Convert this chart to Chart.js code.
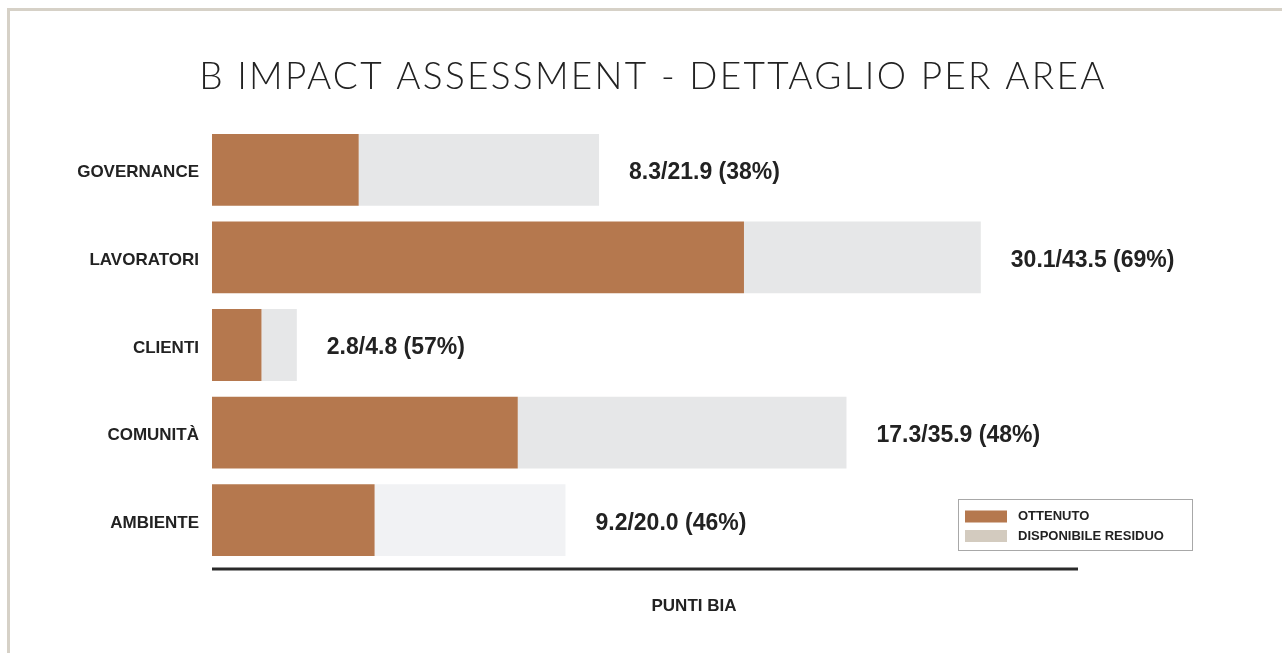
<!DOCTYPE html>
<html>
<head>
<script src="https://cdn.jsdelivr.net/npm/chart.js@4.4.1/dist/chart.umd.min.js"></script>
<style>
  body { margin: 0; background: #fff; overflow: hidden; }
  #frame { position: absolute; left: 7px; top: 8px; width: 1400px; height: 800px;
           border-top: 3px solid #d6d1c7; border-left: 3px solid #d6d1c7; }
  #wrap { position: absolute; left: 0; top: 0; width: 1282px; height: 653px; }
</style>
</head>
<body>
<div id="frame"></div>
<div id="wrap"><canvas id="chart" width="1282" height="653"></canvas></div>
<script>
  var areas = ['GOVERNANCE', 'LAVORATORI', 'CLIENTI', 'COMUNITÀ', 'AMBIENTE'];
  var ottenuto = [8.3, 30.1, 2.8, 17.3, 9.2];
  var totale = [21.9, 43.5, 4.8, 35.9, 20.0];
  var percentuale = [38, 69, 57, 48, 46];
  var residuo = totale.map((t, i) => +(t - ottenuto[i]).toFixed(1));
  var coloriResiduo = ['#e6e7e8', '#e6e7e8', '#e6e7e8', '#e6e7e8', '#f1f2f4'];

  var titolo = 'B IMPACT ASSESSMENT - DETTAGLIO PER AREA';
  var labelFont = '"Liberation Sans", Arial, sans-serif';

  // value labels to the right of each full bar
  var valueLabels = {
    id: 'valueLabels',
    afterDatasetsDraw(chart) {
      var ctx = chart.ctx;
      var meta = chart.getDatasetMeta(1);
      ctx.save();
      ctx.font = 'bold 23px ' + labelFont;
      ctx.fillStyle = '#222';
      ctx.textBaseline = 'middle';
      meta.data.forEach((bar, i) => {
        var txt = ottenuto[i].toFixed(1) + '/' + totale[i].toFixed(1) + ' (' + percentuale[i] + '%)';
        ctx.fillText(txt, bar.x + 30, bar.y + 3);
      });
      ctx.restore();
    }
  };

  // title, thick axis line, axis title and boxed legend
  var extras = {
    id: 'extras',
    afterDraw(chart) {
      var ctx = chart.ctx;
      var a = chart.chartArea;
      ctx.save();

      ctx.fillStyle = '#222';
      ctx.font = '300 37px Lato, sans-serif';
      ctx.letterSpacing = '2.3px';
      ctx.textAlign = 'center';
      ctx.textBaseline = 'middle';
      ctx.fillText(titolo, 653, 77);
      ctx.letterSpacing = '0px';

      ctx.strokeStyle = '#2a2a2a';
      ctx.lineWidth = 3;
      ctx.beginPath();
      ctx.moveTo(a.left, a.bottom + 5);
      ctx.lineTo(a.right, a.bottom + 5);
      ctx.stroke();

      ctx.font = 'bold 17px ' + labelFont;
      ctx.fillText('PUNTI BIA', 694, 606);

      // legend
      ctx.strokeStyle = '#a8a8a8';
      ctx.lineWidth = 1;
      ctx.strokeRect(958.5, 499.5, 234, 51);
      var items = [
        { text: 'OTTENUTO', color: chart.data.datasets[0].legendColor, y: 516.5 },
        { text: 'DISPONIBILE RESIDUO', color: chart.data.datasets[1].legendColor, y: 536 }
      ];
      ctx.textAlign = 'left';
      ctx.font = 'bold 13px ' + labelFont;
      items.forEach(it => {
        ctx.fillStyle = it.color;
        ctx.fillRect(965, it.y - 6, 42, 12);
        ctx.fillStyle = '#222';
        ctx.fillText(it.text, 1018, it.y);
      });
      ctx.restore();
    }
  };

  new Chart(document.getElementById('chart').getContext('2d'), {
    type: 'bar',
    data: {
      labels: areas,
      datasets: [
        {
          label: 'OTTENUTO',
          data: ottenuto,
          backgroundColor: '#b5784e',
          legendColor: '#b5784e',
          categoryPercentage: 1,
          barPercentage: 0.82
        },
        {
          label: 'DISPONIBILE RESIDUO',
          data: residuo,
          backgroundColor: coloriResiduo,
          legendColor: '#d3cbbf',
          categoryPercentage: 1,
          barPercentage: 0.82
        }
      ]
    },
    options: {
      indexAxis: 'y',
      responsive: false,
      animation: false,
      layout: { padding: { left: 0, right: 204, top: 126, bottom: 89 } },
      plugins: {
        legend: { display: false },
        tooltip: { enabled: false },
        title: { display: false }
      },
      scales: {
        x: {
          stacked: true,
          display: false,
          min: 0,
          max: 49
        },
        y: {
          stacked: true,
          grid: { display: false, drawTicks: false },
          border: { display: false },
          afterFit(scale) { scale.width = 212; },
          ticks: {
            color: '#222',
            padding: 13,
            labelOffset: 3,
            font: { family: labelFont, weight: 'bold', size: 17 }
          }
        }
      }
    },
    plugins: [valueLabels, extras]
  });
</script>
</body>
</html>
